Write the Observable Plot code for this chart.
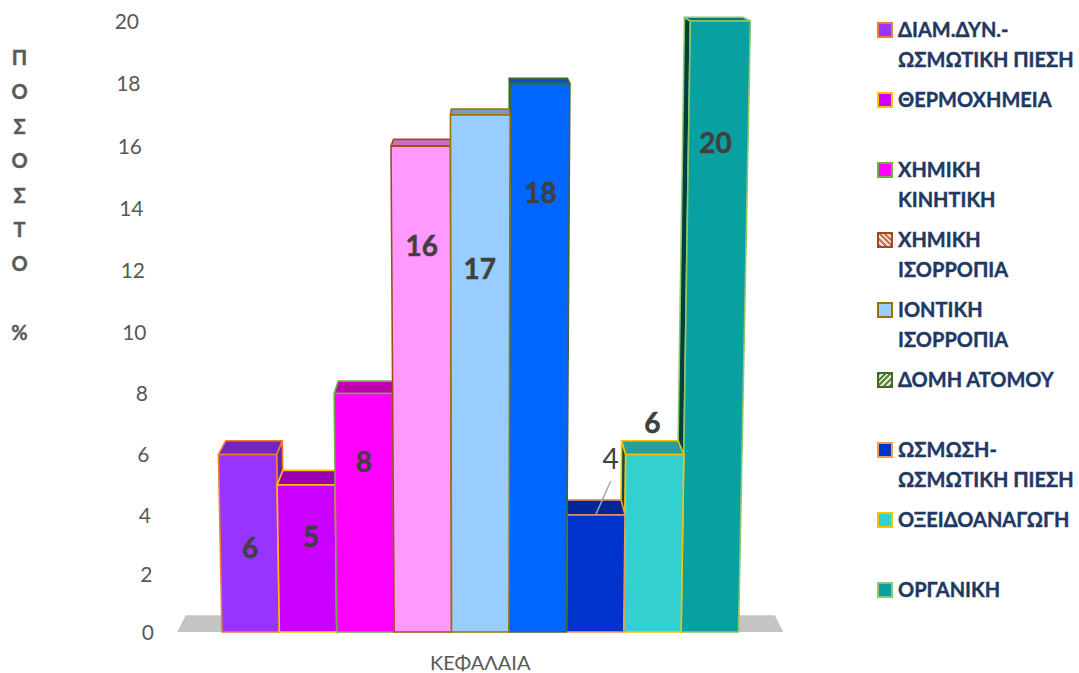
<!DOCTYPE html>
<html>
<head>
<meta charset="utf-8">
<script src="https://cdn.jsdelivr.net/npm/d3@7"></script>
<script src="https://cdn.jsdelivr.net/npm/@observablehq/plot@0.6"></script>
<style>
  html, body { margin: 0; padding: 0; background: #fff; }
  #wrap { position: relative; width: 1079px; height: 673px; overflow: hidden; font-family: Lato, "Open Sans", sans-serif; }
  #legend { position: absolute; left: 877px; top: 14px; }
  .item { height: 70px; display: flex; align-items: flex-start; }
  .sw { width: 12px; height: 12px; border: 2px solid; margin: 8px 5px 0 0; flex: none; }
  .lb { color: #1F3864; font-weight: 700; font-size: 20px; line-height: 30px; white-space: pre; -webkit-text-stroke: 0.4px #1F3864; }
</style>
</head>
<body>
<div id="wrap"><div id="legend"></div></div>
<script>
const chapters = ["ΔΙΑΜ.ΔΥΝ.-\nΩΣΜΩΤΙΚΗ ΠΙΕΣΗ","ΘΕΡΜΟΧΗΜΕΙΑ","ΧΗΜΙΚΗ\nΚΙΝΗΤΙΚΗ","ΧΗΜΙΚΗ\nΙΣΟΡΡΟΠΙΑ","ΙΟΝΤΙΚΗ\nΙΣΟΡΡΟΠΙΑ","ΔΟΜΗ ΑΤΟΜΟΥ","ΩΣΜΩΣΗ-\nΩΣΜΩΤΙΚΗ ΠΙΕΣΗ","ΟΞΕΙΔΟΑΝΑΓΩΓΗ","ΟΡΓΑΝΙΚΗ"];
const percents = [6, 5, 8, 16, 17, 18, 4, 6, 20];
const yTicks = [0, 2, 4, 6, 8, 10, 12, 14, 16, 18, 20];

const frontColors = ["#9933FF","#CC00FF","#FF00FF","#FF99FF","#99CCFF","#0066FF","#0033CC","#33D0D0","#08A0A0"];
const topColors   = ["#7326BF","#9900B3","#BF00B0","#C870C0","#7A9BBF","#0450C0","#002699","#269F9F","#007A7A"];
const sideColors  = ["#6622AA","#88009F","#A0009A","#B060A8","#6688AA","#03409A","#001F80","#0B4A45","#003F3F"];
const edgeColors  = ["#ED7D31","#FFC000","#70AD47","#A5481F","#997300","#43682B","#F1975A","#FFC000","#8FC76A"];
const drawOrder = [0, 1, 2, 3, 8, 7, 6, 5, 4];

// pseudo-3D projection, in data units
const centre = 4.5, spread = 0.0023, backShrink = 0.972;
const px = (i, v, back) => centre + (i - centre) * (1 + spread * v) * (back ? backShrink : 1);
const py = (v, back) => v + (back ? 0.6 - 0.024 * v : 0);

const faces = [];
const face = (id, fill, stroke, pts) => pts.forEach(([x, y]) => faces.push({id, fill, stroke, x, y}));
for (const b of drawOrder) {
  const v = percents[b], l = b, r = b + 1;
  if (b !== 4) {
    const e = b < 4 ? r : l;
    face(`s${b}`, sideColors[b], edgeColors[b], [
      [px(e, v), py(v)], [px(e, v, true), py(v, true)], [px(e, 0, true), py(0, true)], [px(e, 0), py(0)]
    ]);
  }
  face(`t${b}`, topColors[b], edgeColors[b], [
    [px(l, v), py(v)], [px(l, v, true), py(v, true)], [px(r, v, true), py(v, true)], [px(r, v), py(v)]
  ]);
  face(`f${b}`, frontColors[b], edgeColors[b], [
    [px(l, 0), 0], [px(l, v), v], [px(r, v), v], [px(r, 0), 0]
  ]);
}
const floor = [
  {x: px(-0.78, 0), y: 0}, {x: px(-0.78, 0, true), y: py(0, true)},
  {x: px(9.78, 0, true), y: py(0, true)}, {x: px(9.78, 0), y: 0}
];

// label anchors (data units of the two scales)
const labelX = [0.49, 1.55, 2.47, 3.48, 4.49, 5.55, 6.77, 7.5, 8.6];
const labelY = [2.88, 3.28, 5.74, 12.8, 12.03, 14.5, 5.84, 7.03, 16.1];
const labels = percents.map((p, i) => ({p, x: labelX[i], y: labelY[i]}));

const chart = Plot.plot({
  width: 1079, height: 673,
  marginLeft: 0, marginRight: 0, marginTop: 0, marginBottom: 0,
  style: {background: "transparent", overflow: "visible"},
  x: {type: "linear", domain: [0, 9], range: [221.5, 738], axis: null},
  y: {type: "pow", exponent: 1.027, domain: [0, 20], range: [631.5, 20.5], axis: null},
  color: {type: "identity"},
  marks: [
    Plot.line(floor, {x: "x", y: "y", fill: "#C4C4C4", stroke: "none", curve: "linear-closed"}),
    Plot.line(faces, {x: "x", y: "y", z: "id", fill: "fill", stroke: "stroke", strokeWidth: 1.6, strokeLinejoin: "round", curve: "linear-closed"}),
    Plot.line([{x: 6.77, y: 5.11}, {x: 6.51, y: 4.0}], {x: "x", y: "y", stroke: "#A6A6A6", strokeWidth: 1.5}),
    Plot.text(yTicks, {
      x: d => px(-1.184, d), y: d => d, text: d => String(d), dy: 1,
      textAnchor: "end", fontSize: 21, fill: "#595959", fontFamily: "Lato"
    }),
    Plot.text(labels.filter(d => d.p !== 4 || d.x < 6), {
      x: "x", y: "y", text: d => String(d.p), dy: 1,
      fontSize: 28, fontWeight: 700, fill: "#404040", stroke: "#404040", strokeWidth: 0.5, fontFamily: "Lato"
    }),
    Plot.text(labels.filter(d => d.p === 4), {
      x: "x", y: "y", text: d => String(d.p), dy: 1,
      fontSize: 28, fontWeight: 400, fill: "#404040", fontFamily: "Lato"
    }),
    Plot.text(["ΚΕΦΑΛΑΙΑ"], {
      x: () => 4.5, frameAnchor: "bottom", dy: -4, text: d => d, lineAnchor: "bottom",
      fontSize: 20, fill: "#595959", fontFamily: "Lato"
    }),
    Plot.text(["Π\nΟ\nΣ\nΟ\nΣ\nΤ\nΟ\n\n%"], {
      frameAnchor: "top-left", dx: 19, dy: 40, text: d => d, textAnchor: "middle", lineAnchor: "top",
      lineHeight: 1.72, fontSize: 20, fontWeight: 700, fill: "#595959", stroke: "#595959", strokeWidth: 0.4, fontFamily: "Lato"
    })
  ]
});
document.getElementById("wrap").prepend(chart);

const legend = document.getElementById("legend");
chapters.forEach((name, i) => {
  const item = document.createElement("div");
  item.className = "item";
  const sw = document.createElement("div");
  sw.className = "sw";
  sw.style.borderColor = edgeColors[i];
  if (i === 3) sw.style.background = "repeating-linear-gradient(45deg,#C9764A 0 2px,#F6E3D6 2px 4px)";
  else if (i === 5) sw.style.background = "repeating-linear-gradient(-45deg,#5B8A3C 0 2px,#DDE9D2 2px 4px)";
  else sw.style.background = frontColors[i];
  const lb = document.createElement("div");
  lb.className = "lb";
  lb.textContent = name;
  item.append(sw, lb);
  legend.append(item);
});
</script>
</body>
</html>
